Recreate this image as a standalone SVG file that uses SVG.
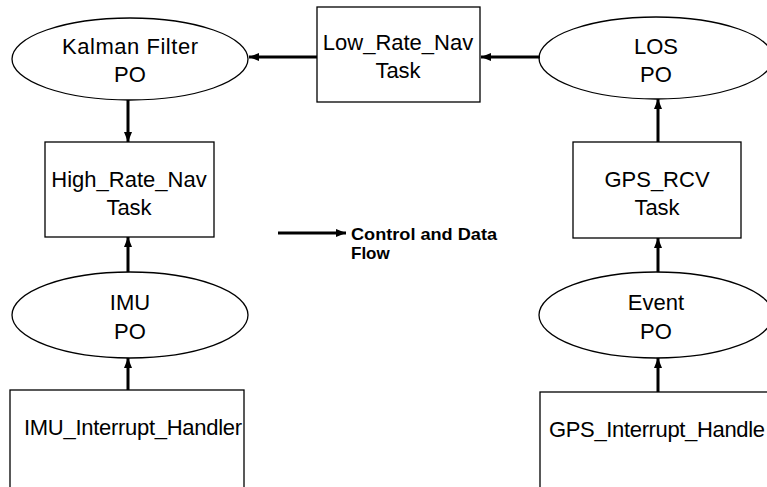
<svg xmlns="http://www.w3.org/2000/svg" width="767" height="487" viewBox="0 0 767 487">
<defs>
<marker id="ah" markerUnits="userSpaceOnUse" markerWidth="10" markerHeight="10" viewBox="0 0 10 10" refX="10" refY="5" orient="auto">
<path d="M0,1 L10,5 L0,9 Z" fill="#000"/>
</marker>
</defs>
<style>
.nd{fill:#fff;stroke:#000;stroke-width:1.3}
.t{font-family:"Liberation Sans",Arial,sans-serif;font-size:22px;fill:#000}
.c{text-anchor:middle}
.cn{stroke:#000;stroke-width:3;fill:none;marker-end:url(#ah)}
.lg{font-family:"Liberation Sans",Arial,sans-serif;font-size:17px;font-weight:bold;fill:#000}
</style>
<rect width="767" height="487" fill="#fff"/>
<g id="kalman">
<ellipse class="nd" cx="130" cy="59" rx="118" ry="41"/>
<text class="t c" x="130" y="54" textLength="136">Kalman  Filter</text>
<text class="t c" x="130" y="82">PO</text>
</g>
<g id="lowrate">
<rect class="nd" x="317" y="7" width="163" height="95"/>
<text class="t c" x="398" y="50">Low_Rate_Nav</text>
<text class="t c" x="398" y="78">Task</text>
</g>
<g id="los">
<ellipse class="nd" cx="656" cy="58" rx="117" ry="41"/>
<text class="t c" x="656" y="54">LOS</text>
<text class="t c" x="656" y="82">PO</text>
</g>
<g id="highrate">
<rect class="nd" x="45" y="142" width="169" height="95"/>
<text class="t c" x="129" y="187">High_Rate_Nav</text>
<text class="t c" x="129" y="215">Task</text>
</g>
<g id="gpsrcv">
<rect class="nd" x="573" y="142" width="168" height="96"/>
<text class="t c" x="657" y="187">GPS_RCV</text>
<text class="t c" x="657" y="215">Task</text>
</g>
<g id="imu">
<ellipse class="nd" cx="130" cy="315" rx="118" ry="43"/>
<text class="t c" x="130" y="310">IMU</text>
<text class="t c" x="130" y="339">PO</text>
</g>
<g id="event">
<ellipse class="nd" cx="656" cy="315" rx="117" ry="43"/>
<text class="t c" x="656" y="310">Event</text>
<text class="t c" x="656" y="339">PO</text>
</g>
<g id="imuih">
<rect class="nd" x="10" y="390" width="234" height="120"/>
<text class="t" x="24" y="435" textLength="218">IMU_Interrupt_Handler</text>
</g>
<g id="gpsih">
<rect class="nd" x="540" y="392" width="240" height="120"/>
<text class="t" x="549" y="437" textLength="216">GPS_Interrupt_Handle</text>
</g>
<g id="legend">
<text class="lg" x="351" y="240" textLength="146" lengthAdjust="spacingAndGlyphs">Control and Data</text>
<text class="lg" x="351" y="259">Flow</text>
</g>
<g id="connectors">
<line class="cn" x1="317" y1="57" x2="249" y2="57"/>
<line class="cn" x1="540" y1="57" x2="481" y2="57"/>
<line class="cn" x1="128" y1="100" x2="128" y2="142"/>
<line class="cn" x1="128" y1="272" x2="128" y2="237"/>
<line class="cn" x1="128" y1="390" x2="128" y2="358"/>
<line class="cn" x1="658" y1="142" x2="658" y2="99"/>
<line class="cn" x1="658" y1="272" x2="658" y2="238"/>
<line class="cn" x1="658" y1="392" x2="658" y2="358"/>
<line class="cn" x1="278" y1="233" x2="346" y2="233"/>
</g>
</svg>
